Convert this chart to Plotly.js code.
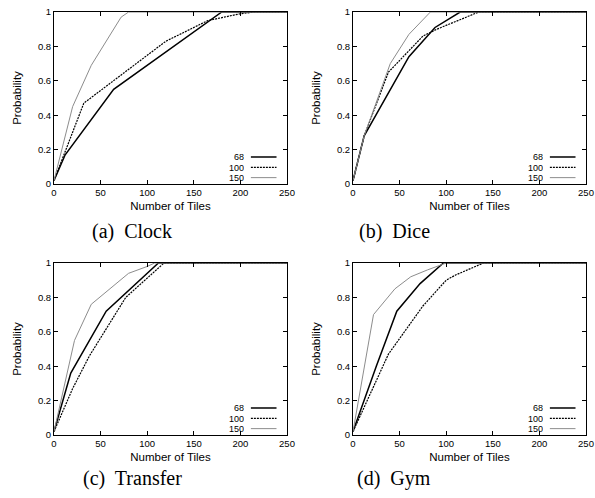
<!DOCTYPE html>
<html>
<head>
<meta charset="utf-8">
<script src="https://cdn.plot.ly/plotly-3.0.1.min.js"></script>
<style>html,body{margin:0;padding:0;background:#fff;}#plot{width:595px;height:498px;}</style>
</head>
<body>
<div id="plot"></div>
<script>
// Data
const panels = ["(a)  Clock", "(b)  Dice", "(c)  Transfer", "(d)  Gym"];
const seriesNames = ["68", "100", "150"];

const clock68x = [0, 12, 64, 180, 250];
const clock68y = [0.02, 0.17, 0.55, 1, 1];
const clock100x = [0, 32, 120, 165, 200, 215, 250];
const clock100y = [0.02, 0.47, 0.83, 0.95, 0.99, 1, 1];
const clock150x = [0, 20, 40, 72, 80, 250];
const clock150y = [0.02, 0.45, 0.69, 0.97, 1, 1];

const dice68x = [0, 12, 60, 88, 115, 250];
const dice68y = [0.02, 0.28, 0.74, 0.91, 1, 1];
const dice100x = [0, 12, 38, 75, 90, 135, 250];
const dice100y = [0.02, 0.28, 0.65, 0.86, 0.9, 1, 1];
const dice150x = [0, 12, 40, 60, 83, 250];
const dice150y = [0.02, 0.28, 0.7, 0.87, 1, 1];

const transfer68x = [0, 18, 56, 80, 112, 250];
const transfer68y = [0.02, 0.36, 0.72, 0.84, 1, 1];
const transfer100x = [0, 20, 38, 77, 118, 250];
const transfer100y = [0.02, 0.27, 0.46, 0.8, 1, 1];
const transfer150x = [0, 22, 40, 80, 100, 108, 250];
const transfer150y = [0.02, 0.55, 0.76, 0.94, 0.98, 1, 1];

const gym68x = [0, 25, 47, 72, 97, 250];
const gym68y = [0.02, 0.4, 0.72, 0.88, 1, 1];
const gym100x = [0, 38, 75, 100, 110, 140, 250];
const gym100y = [0.02, 0.47, 0.75, 0.9, 0.93, 1, 1];
const gym150x = [0, 22, 45, 62, 80, 100, 250];
const gym150y = [0.02, 0.7, 0.85, 0.92, 0.96, 1, 1];

const xTicks = [0, 50, 100, 150, 200, 250];
const yTicks = [0, 0.2, 0.4, 0.6, 0.8, 1];
const yTickText = ["0", "0.2", "0.4", "0.6", "0.8", "1"];

const allX = [[clock68x, clock100x, clock150x], [dice68x, dice100x, dice150x],
              [transfer68x, transfer100x, transfer150x], [gym68x, gym100x, gym150x]];
const allY = [[clock68y, clock100y, clock150y], [dice68y, dice100y, dice150y],
              [transfer68y, transfer100y, transfer150y], [gym68y, gym100y, gym150y]];

const styles = [
  {color: "#000000", width: 1.5, dash: "solid"},
  {color: "#000000", width: 1.2, dash: "2px,1px"},
  {color: "#8c8c8c", width: 1.0, dash: "solid"}
];

const W = 595, H = 498;
const FONT = "Liberation Sans, Arial, sans-serif";
// pixel boxes of plot areas [left, right, top, bottom]
const boxes = [[54, 287, 12, 184], [353, 586, 12, 184], [54, 287, 263, 435], [353, 586, 263, 435]];
const captionPos = [[132, 231], [394, 231], [132, 478], [394, 478]];

const traces = [];
const layout = {
  width: W, height: H,
  margin: {l: 0, r: 0, t: 0, b: 0},
  paper_bgcolor: "#fff", plot_bgcolor: "#fff",
  showlegend: false,
  font: {family: FONT, size: 9.5, color: "#000"},
  annotations: [], shapes: []
};

for (let p = 0; p < 4; p++) {
  const sfx = p === 0 ? "" : String(p + 1);
  const [l, r, t, b] = boxes[p];
  for (let s = 0; s < 3; s++) {
    traces.push({
      x: allX[p][s], y: allY[p][s], type: "scatter", mode: "lines",
      name: seriesNames[s], xaxis: "x" + sfx, yaxis: "y" + sfx,
      line: styles[s], hoverinfo: "skip"
    });
  }
  const axCommon = {
    showgrid: false, zeroline: false, showline: true, linecolor: "#000", linewidth: 1,
    mirror: "ticks", ticks: "inside", ticklen: 4, tickwidth: 1, tickcolor: "#000",
    tickfont: {family: FONT, size: 9.5, color: "#000"}
  };
  layout["xaxis" + sfx] = Object.assign({}, axCommon, {
    domain: [l / W, r / W], range: [0, 250], tickvals: xTicks, anchor: "y" + sfx,
    title: {text: "Number of Tiles", font: {family: FONT, size: 11.5}, standoff: 4}
  });
  layout["yaxis" + sfx] = Object.assign({}, axCommon, {
    domain: [(H - b) / H, (H - t) / H], range: [0, 1], tickvals: yTicks, ticktext: yTickText,
    anchor: "x" + sfx,
    title: {text: "Probability", font: {family: FONT, size: 11.5}, standoff: 13}
  });
  // legend inside bottom right
  const rows = [0.157, 0.097, 0.037];
  for (let s = 0; s < 3; s++) {
    layout.annotations.push({
      xref: "x" + sfx + " domain", yref: "y" + sfx + " domain",
      x: 0.82, y: rows[s], xanchor: "right", yanchor: "middle",
      text: seriesNames[s], showarrow: false, height: 9, borderpad: 0,
      font: {size: 9, family: FONT, color: "#000"}
    });
    layout.shapes.push({
      type: "line", xref: "x" + sfx + " domain", yref: "y" + sfx + " domain",
      x0: 0.845, x1: 0.955, y0: rows[s], y1: rows[s], line: styles[s]
    });
  }
  // caption
  layout.annotations.push({
    xref: "paper", yref: "paper",
    x: captionPos[p][0] / W, y: 1 - captionPos[p][1] / H,
    xanchor: "center", yanchor: "middle", showarrow: false,
    text: panels[p],
    font: {family: "Liberation Serif, Times New Roman, serif", size: 20, color: "#000"}
  });
}

Plotly.newPlot("plot", traces, layout, {staticPlot: true, displayModeBar: false});
</script>
</body>
</html>
